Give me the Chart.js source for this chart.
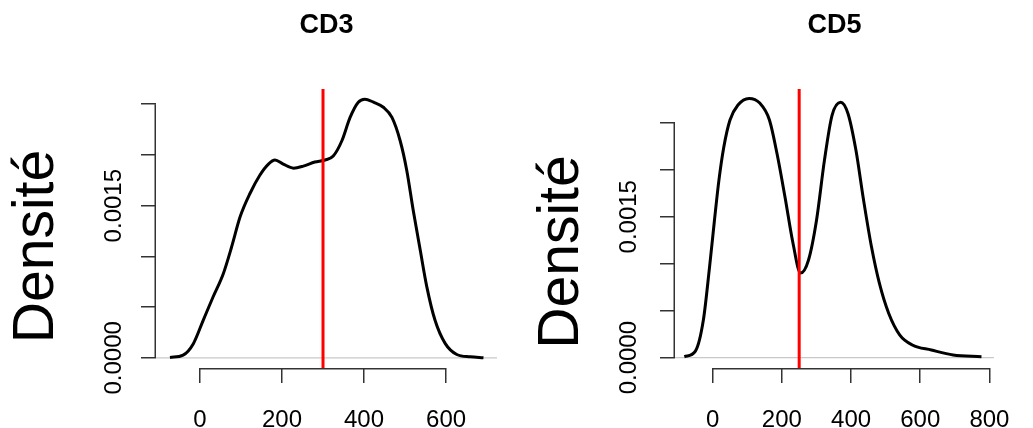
<!DOCTYPE html>
<html><head><meta charset="utf-8">
<script src="https://cdn.jsdelivr.net/npm/chart.js@4/dist/chart.umd.min.js"></script>
<style>
html,body{margin:0;padding:0;background:#fff;}
#wrap{position:relative;width:1033px;height:428px;overflow:hidden;background:#fff;}
#wrap canvas{position:absolute;top:0;}
</style></head><body>
<div id="wrap">
<canvas id="c1" width="516" height="428" style="left:0px"></canvas>
<canvas id="c2" width="517" height="428" style="left:516px"></canvas>
</div>
<script>
// ---- data ----
const cd3X = [-73,-41,-16,8,32,57,77,98,122,146,167,183,203,228,252,280,305,325,346,366,386,402,423,447,468,488,504,520,537,553,573,598,626,659,691];
const cd3Y = [0.000004,0.000027,0.00014,0.00037,0.0006,0.00083,0.00109,0.00139,0.00162,0.0018,0.00191,0.00195,0.00191,0.00187,0.00189,0.00193,0.00195,0.00199,0.00214,0.00237,0.00252,0.00255,0.00252,0.00247,0.00237,0.00214,0.00185,0.00145,0.00106,0.0007,0.00037,0.00014,0.000033,0.00001,0];
const cd5X = [-82,-50,-27,-9,5,18,32,50,73,105,136,164,186,209,232,254,277,300,323,345,370,391,414,436,459,482,509,541,577,632,695,777];
const cd5Y = [0.00001,0.00007,0.0004,0.00097,0.00146,0.00189,0.00224,0.00253,0.00269,0.00276,0.00271,0.00253,0.00217,0.00171,0.00122,0.0009,0.00104,0.00146,0.0021,0.00258,0.00272,0.0026,0.00221,0.00168,0.00118,0.00079,0.00047,0.00024,0.000135,0.000082,0.000029,0.00001];
const panelTitles = ['CD3', 'CD5'];
const cutoffs = [300, 250];
const yAxisTitle = 'Densité';
const xTicksCD3 = [0, 200, 400, 600];
const xTicksCD5 = [0, 200, 400, 600, 800];
const yTicks = [0, 0.0005, 0.001, 0.0015, 0.002, 0.0025];
const yTickShown = [0, 0.0015];
const yTickText = ['0.0000', '0.0015'];
const xLimCD3 = [-107, 724];
const yLimCD3 = [-0.0001, 0.00265];
const xLimCD5 = [-109, 813];
const yLimCD5 = [-0.00011, 0.00286];

const FONT = "'Liberation Sans', Arial, sans-serif";

const axisLines = {
  id: 'axisLines',
  afterDraw(chart) {
    const {ctx, scales} = chart;
    const xs = scales.x, ys = scales.y;
    ctx.save();
    ctx.strokeStyle = '#333';
    ctx.lineWidth = 1.5;
    ctx.beginPath();
    const xt = xs.ticks, yt = ys.ticks;
    ctx.moveTo(xs.getPixelForValue(xt[0].value), xs.top + 0.75);
    ctx.lineTo(xs.getPixelForValue(xt[xt.length - 1].value), xs.top + 0.75);
    ctx.moveTo(ys.right - 0.75, ys.getPixelForValue(yt[0].value));
    ctx.lineTo(ys.right - 0.75, ys.getPixelForValue(yt[yt.length - 1].value));
    ctx.stroke();
    ctx.restore();
  }
};

// y-axis label, placed like R's ylab (rotated, left of the axis)
const yLabel = {
  id: 'yLabel',
  afterDraw(chart, args, opts) {
    const {ctx} = chart;
    const ys = chart.scales.y;
    ctx.save();
    ctx.translate(ys.left + opts.x, opts.y);
    ctx.rotate(-Math.PI / 2);
    ctx.fillStyle = '#000';
    ctx.font = '57px ' + FONT;
    ctx.textAlign = 'center';
    ctx.textBaseline = 'middle';
    ctx.fillText(opts.text, 0, 0);
    ctx.restore();
  }
};

function pts(xs, ys) { return xs.map((x, i) => ({x: x, y: ys[i]})); }

function makePanel(id, cfg) {
  const W = document.getElementById(id).width;
  return new Chart(document.getElementById(id), {
    type: 'line',
    data: {
      datasets: [
        { data: [{x: cfg.cut, y: cfg.yLim[0]}, {x: cfg.cut, y: cfg.yLim[1]}],
          borderColor: '#ff0000', borderWidth: 3, pointRadius: 0, tension: 0 },
        { data: pts(cfg.xs, cfg.ys), borderColor: '#000000', borderWidth: 3,
          pointRadius: 0, tension: 0.4, cubicInterpolationMode: 'monotone' },
        { data: [{x: cfg.xLim[0], y: 0}, {x: cfg.xLim[1], y: 0}],
          borderColor: '#c8c8c8', borderWidth: 1.2, pointRadius: 0, tension: 0 }
      ]
    },
    options: {
      responsive: false,
      animation: false,
      devicePixelRatio: 1,
      layout: { padding: { left: 0, right: W - cfg.plotRight, top: 0, bottom: 0 } },
      plugins: {
        legend: { display: false }, tooltip: { enabled: false }, title: { display: false },
        yLabel: { text: yAxisTitle, x: cfg.labX, y: cfg.labY }
      },
      scales: {
        x: {
          type: 'linear', position: 'bottom', min: cfg.xLim[0], max: cfg.xLim[1],
          afterBuildTicks: s => { s.ticks = cfg.xTicks.map(v => ({value: v})); },
          afterFit: s => { s.height = 60; },
          border: { display: false },
          grid: { display: true, drawOnChartArea: false, drawTicks: true, tickLength: 15, color: '#333', lineWidth: 1.5 },
          ticks: { autoSkip: false, maxRotation: 0, minRotation: 0, padding: cfg.xPad,
                   color: '#000', font: { family: FONT, size: 24 }, callback: v => String(v) }
        },
        top: {
          type: 'linear', position: 'top', axis: 'x', display: true,
          afterFit: s => { s.height = 89; },
          border: { display: false }, grid: { display: false },
          ticks: { display: false },
          title: { display: true, text: cfg.title, color: '#000', padding: { top: 9, bottom: 0 },
                   font: { family: FONT, size: 27, weight: 'bold' } }
        },
        y: {
          type: 'linear', position: 'left', min: cfg.yLim[0], max: cfg.yLim[1],
          afterBuildTicks: s => { s.ticks = yTicks.map(v => ({value: v})); },
          afterFit: s => { s.width = cfg.plotLeft; },
          border: { display: false },
          grid: { display: true, drawOnChartArea: false, drawTicks: true, tickLength: 15, color: '#333', lineWidth: 1.5 },
          ticks: { autoSkip: false, minRotation: 90, maxRotation: 90, crossAlign: 'center', padding: cfg.yPad,
                   color: '#000', font: { family: FONT, size: 24 },
                   callback: v => { const k = yTickShown.findIndex(t => Math.abs(t - v) < 1e-9); return k >= 0 ? yTickText[k] : ''; } }
        }
      }
    },
    plugins: [axisLines, yLabel]
  });
}

makePanel('c1', { xs: cd3X, ys: cd3Y, cut: cutoffs[0], title: panelTitles[0], xTicks: xTicksCD3,
  xLim: xLimCD3, yLim: yLimCD3, plotLeft: 156, plotRight: 497, xPad: 23, yPad: -9.7, labX: 37, labY: 246.5 });
makePanel('c2', { xs: cd5X, ys: cd5Y, cut: cutoffs[1], title: panelTitles[1], xTicks: xTicksCD5,
  xLim: xLimCD5, yLim: yLimCD5, plotLeft: 159, plotRight: 497, xPad: 23, yPad: -5.7, labX: 46, labY: 252 });
</script>
</body></html>
